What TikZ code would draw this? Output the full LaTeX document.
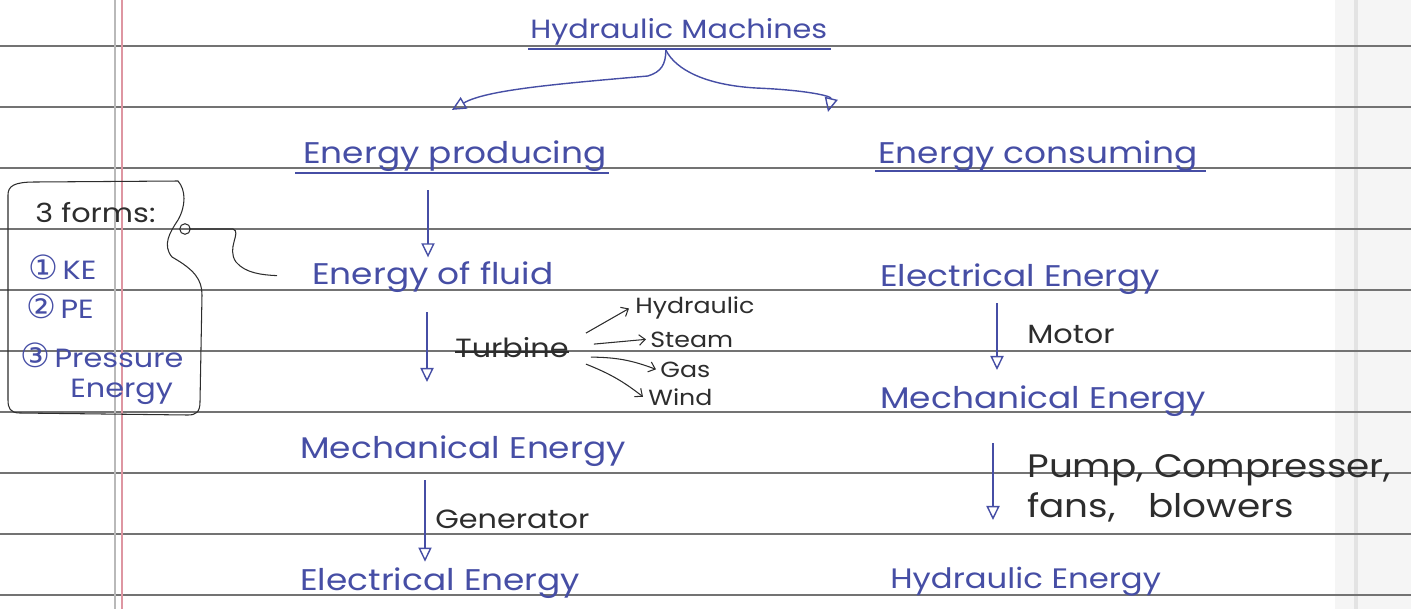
\documentclass[tikz,border=0pt]{standalone}
\usepackage{fontspec}
\setmainfont{Poppins}[FakeStretch=1.15]
\newfontfamily\circfont{DejaVu Sans}
\usetikzlibrary{calc,arrows.meta}
\definecolor{ink}{RGB}{70,78,165}
\definecolor{pencil}{RGB}{45,45,45}
\definecolor{rule}{RGB}{115,115,115}
\definecolor{margin}{RGB}{222,150,162}

\begin{document}
\begin{tikzpicture}[x=0.02cm,y=-0.02cm,
  bluetxt/.style={text=ink,inner sep=0pt,anchor=base west,font=\fontsize{17}{20}\selectfont},
  blacktxt/.style={text=pencil,inner sep=0pt,anchor=base west,font=\fontsize{15}{18}\selectfont},
  tinytxt/.style={blacktxt,font=\fontsize{12.5}{15}\selectfont},
  boxtxt/.style={bluetxt,font=\fontsize{15}{18}\selectfont},
  arr/.style={ink,line width=0.8pt,-{Triangle[open,length=8pt,width=7.5pt]}},
  barb/.style={pencil,line width=0.6pt,-{Straight Barb[length=3.5pt,width=6pt]}}]
\useasboundingbox (0,0) rectangle (1411,609);
% paper
\fill[gray!8] (1335,0) rectangle (1411,609);
\draw[gray!22,line width=2pt] (1356,0) -- (1356,609);
\foreach \y in {46,107,...,595} \draw[rule,line width=0.8pt] (0,\y) -- (1411,\y);
\draw[gray!55,line width=0.6pt] (115,0) -- (115,609);
\draw[margin,line width=0.6pt] (122,0) -- (122,609);
%
\node[bluetxt,font=\fontsize{15}{18}\selectfont] (title) at (530,38) {Hydraulic Machines};
\node[bluetxt] (prod) at (303,163) {Energy producing};
\node[bluetxt] (cons) at (878,163) {Energy consuming};
\node[bluetxt] (fluid) at (312,284) {Energy of fluid};
\node[bluetxt] (mechL) at (300,458) {Mechanical Energy};
\node[bluetxt] (elecL) at (300,590) {Electrical Energy};
\node[bluetxt] (elecR) at (880,286) {Electrical Energy};
\node[bluetxt] (mechR) at (880,408) {Mechanical Energy};
\node[bluetxt,font=\fontsize{16}{19}\selectfont] (hydR) at (890,588) {Hydraulic Energy};
%
\node[blacktxt] (turb) at (455,357) {Turbine};
\node[tinytxt] (hyd) at (635,313) {Hydraulic};
\node[tinytxt] (steam) at (650,347) {Steam};
\node[tinytxt] (gas) at (660,377) {Gas};
\node[tinytxt] (wind) at (648,405) {Wind};
\node[blacktxt] (gen) at (435,528) {Generator};
\node[blacktxt] (motor) at (1027,343) {Motor};
\node[blacktxt,font=\fontsize{18.5}{22}\selectfont] (pump) at (1027,477) {Pump, Compresser,};
\node[blacktxt,font=\fontsize{18.5}{22}\selectfont] (fans) at (1027,517) {fans,\quad blowers};
%
\node[blacktxt] (forms) at (35,222) {3 forms:};
\node[boxtxt] (ke) at (28,279) {{\circfont\fontsize{19}{20}\selectfont ①}\,KE};
\node[boxtxt] (pe) at (26,318) {{\circfont\fontsize{19}{20}\selectfont ②}\,PE};
\node[boxtxt] (pr) at (20,367) {{\circfont\fontsize{19}{20}\selectfont ③}\,Pressure};
\node[boxtxt] (en) at (70,397) {Energy};
%
\draw[ink,line width=0.7pt] ($(title.base west)+(-2,11)$) -- ($(title.base east)+(3,11)$);
\draw[ink,line width=0.7pt] ($(prod.base west)+(-8,10)$) -- ($(prod.base east)+(2,10)$);
\draw[ink,line width=0.7pt] ($(cons.base west)+(-3,8)$) -- ($(cons.base east)+(8,8)$);
\draw[pencil,line width=0.6pt] ($(turb.base west)+(0,-5)$) -- ($(turb.base east)+(0,-5)$);
%
\coordinate (split) at ($(title.base)+(-13,12)$);
\draw[arr] (split) .. controls ($(split)+(0,15)$) and ($(split)+(-5,22)$) .. ($(split)+(-18,26)$)
  .. controls ($(split)+(-110,34)$) and ($(split)+(-180,40)$) .. ($(prod.north)+(-3,-30)$);
\draw[arr] (split) .. controls ($(split)+(10,20)$) and ($(split)+(40,35)$) .. ($(split)+(90,38)$)
  .. controls ($(split)+(140,40)$) and ($(split)+(166,46)$) .. ($(cons.north west)+(-50,-28)$);
%
\draw[arr,shorten >=2pt] ($(prod.base west)+(125,27)$) coordinate (a) -- (a |- fluid.north);
\draw[arr] ($(fluid.base west)+(115,28)$) -- ++(0,70);
\draw[arr,shorten >=3pt] ($(mechL.base west)+(125,22)$) coordinate (b) -- (b |- elecL.north);
\draw[arr] ($(elecR.base west)+(117,17)$) -- ++(0,67);
\draw[arr] ($(mechR.base west)+(113,35)$) -- ++(0,77);
%
\draw[barb] ($(turb.east)+(17,-14)$) -- ($(hyd.west)+(-6,1)$);
\draw[barb] ($(turb.east)+(25,-3)$) -- ($(steam.west)+(-4,0)$);
\draw[barb] ($(turb.east)+(22,10)$) to[bend left=10] ($(gas.west)+(-4,0)$);
\draw[barb] ($(turb.east)+(17,17)$) to[bend left=8] ($(wind.west)+(-5,0)$);
%
\draw[pencil,line width=0.6pt] (35,182) -- (178,181) .. controls (186,190) and (186,206) .. (178,220)
  .. controls (170,232) and (162,245) .. (172,257) .. controls (195,270) and (202,280) .. (202,295)
  -- (200,402) .. controls (200,412) and (196,415) .. (188,415) -- (20,413)
  .. controls (10,413) and (8,408) .. (8,400) -- (8,195) .. controls (8,186) and (14,182) .. (35,182);
\coordinate (knot) at (185,229);
\draw[pencil,line width=0.6pt] (knot) circle[radius=3pt];
\draw[pencil,line width=0.6pt] ($(knot)+(4,0)$) -- (233,229) .. controls (242,232) and (226,248) .. (236,262)
  .. controls (245,273) and (262,275) .. ($(fluid.west)+(-35,-1)$);
\end{tikzpicture}
\end{document}
